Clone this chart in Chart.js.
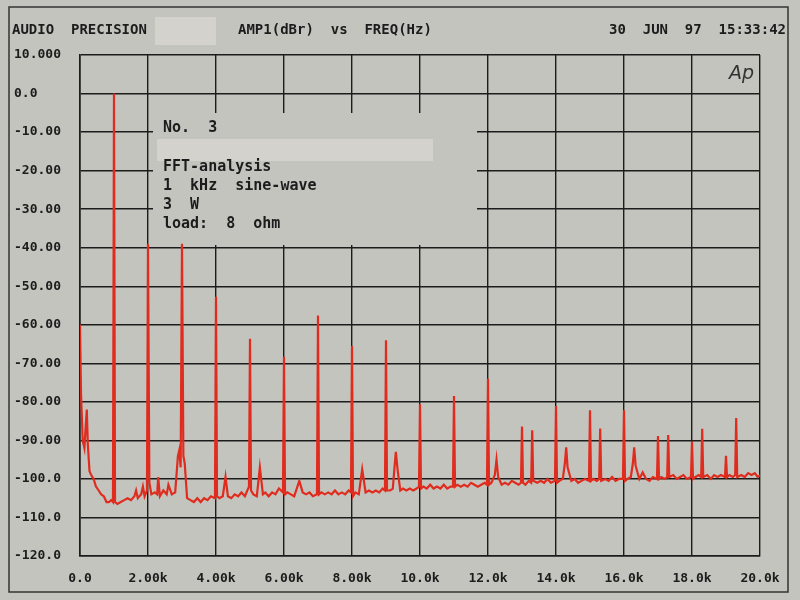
<!DOCTYPE html>
<html>
<head>
<meta charset="utf-8">
<script src="https://cdn.jsdelivr.net/npm/chart.js@4"></script>
<style>
  body { margin: 0; background: #c4c4bf; }
  #wrap { width: 800px; height: 600px; }
</style>
</head>
<body>
<div id="wrap"><canvas id="fft-chart"></canvas></div>
<script>
// frequency (kHz) and level (dBr), one 1 kHz stretch per line
var freqKHz = [
    0, 0.03, 0.08, 0.13, 0.17, 0.2, 0.23, 0.28, 0.33, 0.4, 0.47, 0.55, 0.62, 0.7, 0.78, 0.85, 0.92, 0.97,
    1.0, 1.03, 1.1, 1.2, 1.3, 1.4, 1.5, 1.6, 1.65, 1.7, 1.8, 1.85, 1.9, 1.97,
    2.0, 2.04, 2.1, 2.2, 2.27, 2.3, 2.35, 2.45, 2.55, 2.6, 2.7, 2.8, 2.88, 2.92, 2.96,
    3.0, 3.04, 3.08, 3.15, 3.25, 3.35, 3.45, 3.55, 3.65, 3.75, 3.85, 3.97,
    4.0, 4.03, 4.1, 4.2, 4.28, 4.35, 4.45, 4.55, 4.65, 4.75, 4.85, 4.97,
    5.0, 5.03, 5.1, 5.2, 5.29, 5.38, 5.45, 5.55, 5.65, 5.75, 5.85, 5.97,
    6.0, 6.03, 6.1, 6.2, 6.3, 6.45, 6.55, 6.65, 6.75, 6.85, 6.97,
    7.0, 7.03, 7.1, 7.2, 7.3, 7.4, 7.5, 7.6, 7.7, 7.8, 7.9, 7.97,
    8.0, 8.03, 8.1, 8.2, 8.3, 8.4, 8.5, 8.6, 8.7, 8.8, 8.9, 8.97,
    9.0, 9.03, 9.12, 9.2, 9.25, 9.29, 9.34, 9.42, 9.5, 9.6, 9.7, 9.8, 9.9, 9.97,
    10.0, 10.03, 10.1, 10.2, 10.3, 10.4, 10.5, 10.6, 10.7, 10.8, 10.9, 10.97,
    11.0, 11.03, 11.1, 11.2, 11.3, 11.4, 11.5, 11.6, 11.7, 11.8, 11.9, 11.97,
    12.0, 12.03, 12.1, 12.2, 12.25, 12.3, 12.4, 12.5, 12.6, 12.7, 12.8, 12.9, 12.97,
    13.0, 13.03, 13.1, 13.2, 13.27, 13.3, 13.33, 13.45, 13.55, 13.65, 13.75, 13.85, 13.97,
    14.0, 14.03, 14.1, 14.2, 14.26, 14.3, 14.34, 14.45, 14.55, 14.65, 14.75, 14.85, 14.97,
    15.0, 15.03, 15.1, 15.2, 15.27, 15.3, 15.33, 15.45, 15.55, 15.65, 15.75, 15.85, 15.97,
    16.0, 16.03, 16.1, 16.2, 16.26, 16.3, 16.34, 16.45, 16.55, 16.65, 16.75, 16.85, 16.97,
    17.0, 17.03, 17.1, 17.2, 17.27, 17.3, 17.33, 17.45, 17.55, 17.65, 17.75, 17.85, 17.97,
    18.0, 18.03, 18.1, 18.2, 18.27, 18.3, 18.33, 18.45, 18.55, 18.65, 18.75, 18.85, 18.97,
    19.0, 19.03, 19.1, 19.2, 19.27, 19.3, 19.33, 19.45, 19.55, 19.65, 19.75, 19.85, 19.93, 20.0
];
var levelDb = [
    -60, -78, -90, -92, -86, -82, -91, -98, -99, -100, -102, -103, -104, -104.5, -106, -106, -105.5, -106,
    0, -106, -106.5, -106, -105.5, -105, -105.5, -104.5, -103, -105, -104, -102, -104.5, -103,
    -39, -101, -104, -103.5, -104, -99.5, -104.5, -103, -104, -101.5, -104, -103.5, -94, -92.5, -97,
    -39, -94, -96, -105, -105.5, -106, -105, -106, -105, -105.5, -104.5, -105,
    -52.7, -104.5, -105, -104.5, -99.5, -104.5, -105, -104, -104.5, -103.5, -104.5, -102,
    -63.6, -103, -104, -104.5, -97, -104, -103.5, -104.5, -103.5, -104, -102.5, -103.5,
    -68.3, -104, -103.5, -104, -104.5, -100.5, -103.5, -104, -103.5, -104.5, -104,
    -57.6, -104, -103.5, -104, -103.5, -104, -103, -104, -103.5, -104, -103, -103.5,
    -65.5, -104.5, -103.5, -104, -97.5, -103.5, -103, -103.5, -103, -103.5, -102.5, -103,
    -64, -103, -103, -102.5, -97, -93, -97.5, -103, -102.5, -103, -102.5, -103, -102.5, -102,
    -80.6, -102.5, -102, -102.5, -101.5, -102.5, -102, -102.5, -101.5, -102.5, -102, -102,
    -78.5, -102, -101.5, -102, -101.5, -102, -101, -101.5, -102, -101.5, -101, -101.5,
    -74, -101.5, -101, -99, -95, -99.5, -101.5, -101, -101.5, -100.5, -101, -101.5, -101,
    -86.4, -101, -101.5, -100.5, -101, -87.4, -100.5, -101, -100.5, -101, -100, -101, -100.5,
    -81.1, -101, -100.5, -100, -96, -91.8, -97, -100.5, -100, -101, -100.5, -100, -100.5,
    -82.2, -100.5, -100, -100.5, -100, -86.9, -100.5, -100, -100.5, -99.5, -100.5, -100, -100,
    -82.2, -100.5, -100, -99.5, -96, -91.8, -96.5, -100, -98.3, -100, -100.5, -99.5, -100,
    -88.9, -100, -99.5, -100, -99.5, -88.6, -99.5, -99, -100, -99.5, -99, -100, -99.5,
    -90.3, -100, -99.5, -99, -99.5, -87, -99.5, -99, -100, -99, -99.5, -99, -99.5,
    -94, -99.5, -99, -99.5, -99, -84.2, -99.5, -99, -99.5, -98.5, -99, -98.5, -99.5, -99
];

var xTickValues = [0, 2, 4, 6, 8, 10, 12, 14, 16, 18, 20];
var xTickLabels = ['0.0', '2.00k', '4.00k', '6.00k', '8.00k', '10.0k', '12.0k', '14.0k', '16.0k', '18.0k', '20.0k'];
var yTickValues = [10, 0, -10, -20, -30, -40, -50, -60, -70, -80, -90, -100, -110, -120];
var yTickLabels = ['10.000', '0.0', '-10.00', '-20.00', '-30.00', '-40.00', '-50.00', '-60.00',
                   '-70.00', '-80.00', '-90.00', '-100.0', '-110.0', '-120.0'];

var noteLines = ['No.  3', '', 'FFT-analysis', '1  kHz  sine-wave', '3  W', 'load:  8  ohm'];

var paper = '#c4c4bf';
var ink = '#1c1c1c';

var points = freqKHz.map(function (f, i) { return {x: f, y: levelDb[i]}; });

// paper, header, note block and frame
var apDecor = {
    id: 'apDecor',
    beforeDraw: function (chart) {
        var c = chart.ctx;
        c.save();
        c.fillStyle = paper;
        c.fillRect(0, 0, chart.width, chart.height);
        c.restore();
    },
    beforeDatasetsDraw: function (chart) {
        var c = chart.ctx;
        // the note block blanks the grid behind it
        c.save();
        c.fillStyle = paper;
        c.fillRect(153, 113, 324, 132);
        c.restore();
    },
    afterDraw: function (chart) {
        var c = chart.ctx;
        c.save();
        c.fillStyle = ink;
        c.textBaseline = 'middle';
        c.font = 'bold 14px "DejaVu Sans Mono", monospace';
        c.textAlign = 'left';
        c.fillText('AUDIO  PRECISION', 12, 30);
        c.fillText('AMP1(dBr)  vs  FREQ(Hz)', 238, 30);
        c.textAlign = 'right';
        c.fillText('30  JUN  97  15:33:42', 786, 30);

        c.fillStyle = '#d3d2cd';
        c.fillRect(155, 17, 61, 28);
        c.fillRect(157, 139, 276, 22);

        c.fillStyle = ink;
        c.textAlign = 'left';
        c.font = 'bold 15px "DejaVu Sans Mono", monospace';
        var ys = [128, 148, 167, 186, 205, 224];
        noteLines.forEach(function (t, i) {
            if (t) c.fillText(t, 163, ys[i]);
        });

        c.font = 'italic 19px "DejaVu Sans", sans-serif';
        c.fillStyle = '#333';
        c.fillText('Ap', 729, 74);

        c.strokeStyle = '#333';
        c.lineWidth = 1.5;
        c.strokeRect(9, 7, 779, 585);
        c.restore();
    }
};

new Chart(document.getElementById('fft-chart'), {
    type: 'line',
    data: {
        datasets: [{
            label: 'AMP1',
            data: points,
            borderColor: 'rgb(224, 44, 30)',
            borderWidth: 2.2,
            pointRadius: 0,
            tension: 0,
            fill: false
        }]
    },
    options: {
        responsive: true,
        maintainAspectRatio: false,
        animation: false,
        layout: {
            padding: {top: 55, right: 40, left: 14, bottom: 0}
        },
        scales: {
            x: {
                type: 'linear',
                min: 0,
                max: 20,
                afterFit: function (s) { s.height = 44; },
                afterBuildTicks: function (s) {
                    s.ticks = xTickValues.map(function (v) { return {value: v}; });
                },
                grid: {color: ink, lineWidth: 1.4, drawTicks: false},
                border: {color: ink, width: 1.6},
                ticks: {
                    color: ink,
                    font: {family: '"DejaVu Sans Mono", monospace', size: 13, weight: 'bold'},
                    padding: 15,
                    maxRotation: 0,
                    autoSkip: false,
                    callback: function (v) {
                        var i = xTickValues.indexOf(v);
                        return i < 0 ? '' : xTickLabels[i];
                    }
                }
            },
            y: {
                min: -120,
                max: 10,
                afterFit: function (s) { s.width = 66; },
                afterBuildTicks: function (s) {
                    s.ticks = yTickValues.slice().reverse().map(function (v) { return {value: v}; });
                },
                grid: {color: ink, lineWidth: 1.4, drawTicks: false},
                border: {color: ink, width: 1.6},
                ticks: {
                    color: ink,
                    font: {family: '"DejaVu Sans Mono", monospace', size: 13, weight: 'bold'},
                    crossAlign: 'far',
                    autoSkip: false,
                    callback: function (v) {
                        var i = yTickValues.indexOf(v);
                        return i < 0 ? '' : yTickLabels[i];
                    }
                }
            }
        },
        plugins: {
            legend: {display: false},
            tooltip: {enabled: false}
        }
    },
    plugins: [apDecor]
});
</script>
</body>
</html>
